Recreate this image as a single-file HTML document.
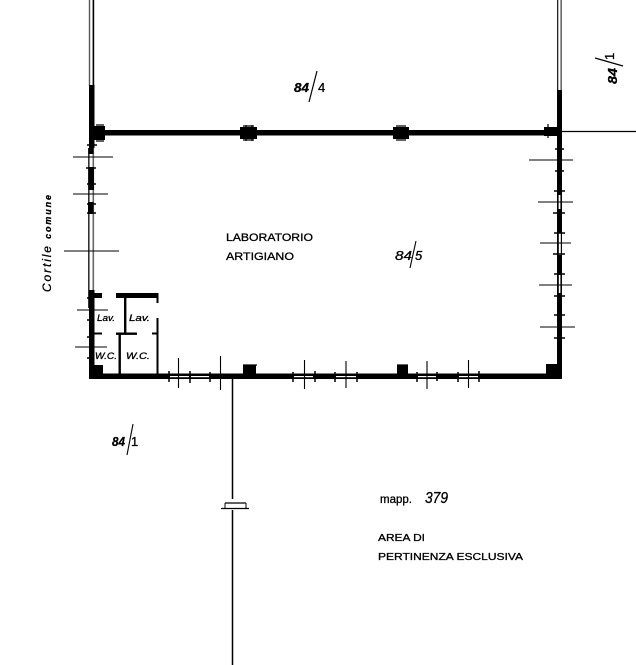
<!DOCTYPE html>
<html><head><meta charset="utf-8"><style>
html,body{margin:0;padding:0;background:#fff;width:636px;height:665px;overflow:hidden}
svg{display:block}
text{font-family:"Liberation Sans",sans-serif;font-style:italic;fill:#000;stroke:#000;stroke-width:.3}
</style></head><body>
<svg width="636" height="665" viewBox="0 0 636 665" xmlns="http://www.w3.org/2000/svg">
<g fill="#000" stroke="none">
<!-- left wall -->
<rect x="88.8" y="0" width="1.4" height="86" fill="#555"/>
<rect x="92.6" y="0" width="1.6" height="86"/>
<rect x="89" y="85" width="5.5" height="63"/>
<rect x="88" y="148" width="1.6" height="160" fill="#333"/>
<rect x="92.5" y="148" width="1.6" height="145" fill="#666"/>
<rect x="88.5" y="148" width="5" height="6"/>
<rect x="88.5" y="167" width="5.5" height="23"/>
<rect x="88" y="202" width="5.5" height="12"/>
<rect x="89" y="290" width="5.5" height="85"/>
<!-- left corner & top wall -->
<rect x="89" y="126" width="16" height="14"/>
<rect x="103" y="130" width="457" height="5.5"/>
<rect x="240" y="127" width="17" height="12"/>
<rect x="393" y="127" width="16" height="12"/>
<rect x="544" y="127" width="16" height="9"/>
<!-- right wall -->
<rect x="557" y="0" width="1.3" height="90" fill="#222"/>
<rect x="560.5" y="0" width="1.3" height="90" fill="#444"/>
<rect x="557" y="90" width="5" height="285"/>
<rect x="558.6" y="195" width="1.8" height="14" fill="#fff"/>
<rect x="558.8" y="233" width="2" height="22" fill="#fff"/>
<rect x="558.8" y="275" width="1.6" height="18" fill="#fff"/>
<!-- bottom wall -->
<rect x="89" y="373.5" width="473" height="5.5"/>
<rect x="546" y="364" width="16" height="15"/>
<rect x="243" y="365" width="13" height="10"/>
<rect x="397" y="365" width="11" height="10"/>
<rect x="90" y="365" width="13" height="12"/>
<!-- bottom wall openings -->
<rect x="170" y="376" width="19" height="1.2" fill="#fff"/>
<rect x="191" y="376" width="18" height="1.2" fill="#fff"/>
<rect x="294" y="376" width="19" height="1.2" fill="#fff"/>
<rect x="336" y="376" width="20" height="1.2" fill="#fff"/>
<rect x="418" y="376" width="18" height="1.2" fill="#fff"/>
<rect x="459" y="376" width="19" height="1.2" fill="#fff"/>
<!-- interior walls -->
<rect x="116" y="293" width="42.5" height="5"/>
<rect x="89" y="293" width="13" height="5"/>
<rect x="124" y="298" width="2.4" height="36"/>
<rect x="116" y="332.5" width="21" height="2.4"/>
<rect x="118.5" y="333" width="2.4" height="42"/>
<rect x="156.5" y="293" width="2" height="10"/>
<rect x="156.5" y="318" width="2" height="57"/>
<rect x="152" y="332.5" width="5" height="2"/>
<rect x="89" y="332.5" width="13" height="2"/>
</g>
<g stroke="#000" fill="none" stroke-width="1.1">
<path d="M73 157H113M73 194H108M64 251H119M77 310H108M75 347H107"/>
<path d="M87 145H97M86 168H96M87 184H96M87 204H96M87 213H96M87 298H93M87 320H93M87 337H93M87 358H93" stroke-width="1.4"/>
<path d="M529 160H573M538 202H573M540 243H571M539 285H572M540 327H575"/>
<path d="M555 149H564M555 171H564M554 191H565M553 213H565M554 233H565M553 254H565M554 274H565M554 296H565M554 315H565M554 338H565" stroke-width="1.4"/>
<path d="M562 131.5H636" stroke-width="1.3"/>
<path d="M178.5 358V388M220.5 356V390M304.5 360V389M346 361V388M427 361V389M468.5 360V388"/>
<path d="M169 371V382M190 371V383M210 372V382M293 372V382M315 371V382M335 372V382M357 372V382M417 372V382M437 372V381M458 372V382M479 371V382" stroke-width="1.5"/>
<path d="M243 126H254M243 140H254M396 126H406M396 140H406M101 126V140M96 125H104M96 141H104M246 125V141M252 125V141M548 124V138M243 365H257M397 365H408" stroke-width="1.2"/>
<path d="M232.5 375V499M232.5 510V665" stroke-width="1.5"/>
<path d="M221 508.5H249" stroke-width="1.3"/>
<path d="M225 503H246" stroke-width="1.3"/>
<path d="M225 503V508M246 503V508" stroke-width="1"/>
</g>
<!-- labels -->
<text x="294" y="92" font-size="13" font-weight="bold" textLength="15" lengthAdjust="spacingAndGlyphs">84</text>
<path d="M317 71L309 102" stroke="#000" stroke-width="1.2"/>
<text x="318" y="92" font-size="13" style="font-style:normal">4</text>
<g transform="translate(617,84) rotate(-90)">
<text x="0" y="0" font-size="13" font-weight="bold" textLength="16" lengthAdjust="spacingAndGlyphs">84</text>
<text x="24" y="-3" font-size="13" style="font-style:normal">1</text>
</g>
<path d="M595 58L623 66" stroke="#000" stroke-width="1.2"/>
<text transform="translate(51,292) rotate(-90)" font-size="12" textLength="97" lengthAdjust="spacing">Cortile <tspan font-weight="bold" font-size="9">comune</tspan></text>
<text x="226" y="241" font-size="11" textLength="87" lengthAdjust="spacingAndGlyphs" style="font-style:normal">LABORATORIO</text>
<text x="226" y="260" font-size="11" textLength="68" lengthAdjust="spacingAndGlyphs" style="font-style:normal">ARTIGIANO</text>
<text x="395" y="260" font-size="13" textLength="17" lengthAdjust="spacingAndGlyphs">84</text>
<path d="M416 241L410 268" stroke="#000" stroke-width="1.1"/>
<text x="415" y="260" font-size="13">5</text>
<text x="112" y="446" font-size="13" font-weight="bold" textLength="13" lengthAdjust="spacingAndGlyphs">84</text>
<path d="M133 424L127 455" stroke="#000" stroke-width="1.1"/>
<text x="131" y="446" font-size="13" style="font-style:normal">1</text>
<text x="380" y="503" font-size="12" textLength="32" lengthAdjust="spacingAndGlyphs" style="font-style:normal">mapp.</text>
<text x="425" y="503" font-size="16" textLength="23" lengthAdjust="spacingAndGlyphs">379</text>
<text x="378" y="541" font-size="10.5" textLength="47" lengthAdjust="spacingAndGlyphs" style="font-style:normal">AREA DI</text>
<text x="378" y="560" font-size="10.5" textLength="145" lengthAdjust="spacingAndGlyphs" style="font-style:normal">PERTINENZA ESCLUSIVA</text>
<text x="97" y="321" font-size="9" textLength="18" lengthAdjust="spacingAndGlyphs">Lav.</text>
<text x="129" y="321" font-size="9" textLength="21" lengthAdjust="spacingAndGlyphs">Lav.</text>
<text x="95" y="359" font-size="9" textLength="22" lengthAdjust="spacingAndGlyphs">W.C.</text>
<text x="126" y="359" font-size="9" textLength="24" lengthAdjust="spacingAndGlyphs">W.C.</text>
</svg>
</body></html>
